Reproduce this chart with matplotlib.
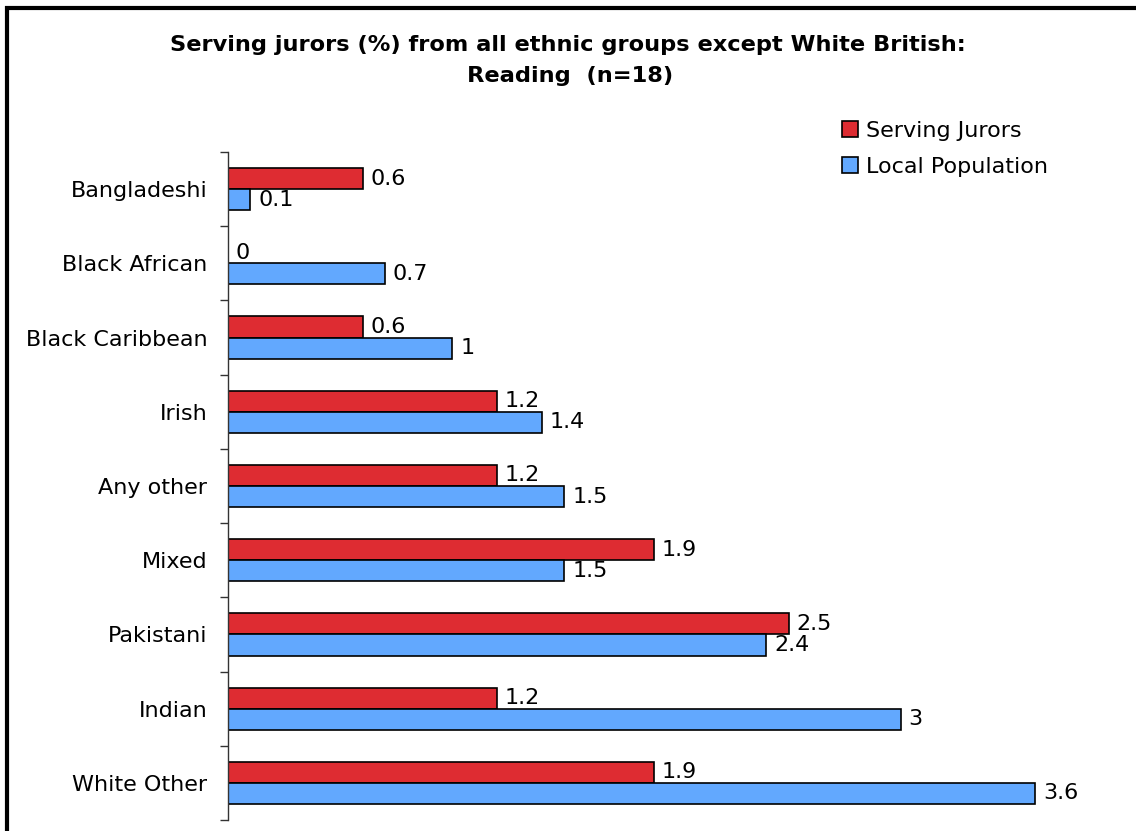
import matplotlib
matplotlib.use("Agg")
import matplotlib.pyplot as plt
from matplotlib.lines import Line2D
import numpy as np

categories = ["Bangladeshi", "Black African", "Black Caribbean", "Irish", "Any other",
              "Mixed", "Pakistani", "Indian", "White Other"]
serving_jurors = [0.6, 0, 0.6, 1.2, 1.2, 1.9, 2.5, 1.2, 1.9]
local_population = [0.1, 0.7, 1, 1.4, 1.5, 1.5, 2.4, 3, 3.6]
series_names = ["Serving Jurors", "Local Population"]
red = "#DE2C32"
blue = "#62A8FE"

def fmt(v):
    return f"{v:g}"

FS = 16
fig = plt.figure(figsize=(11.36, 8.31), dpi=100)
ax = fig.add_axes([228/1136, 1-820/831, (1125-228)/1136, (820-152)/831])

n = len(categories)
y = np.arange(n)
h = 0.285
ax.barh(y - h/2, serving_jurors, height=h, color=red, edgecolor="black", linewidth=1.2,
        label=series_names[0])
ax.barh(y + h/2, local_population, height=h, color=blue, edgecolor="black", linewidth=1.2,
        label=series_names[1])

for yi, v in zip(y, serving_jurors):
    ax.text(v + 0.035, yi - h/2, fmt(v), va="center", ha="left", fontsize=FS)
for yi, v in zip(y, local_population):
    ax.text(v + 0.035, yi + h/2, fmt(v), va="center", ha="left", fontsize=FS)

ax.set_ylim(n - 0.5, -0.5)
ax.set_xlim(0, 4)
ax.set_yticks(y)
ax.set_yticklabels(categories, fontsize=FS)
ax.set_yticks(np.arange(n + 1) - 0.5, minor=True)
ax.tick_params(axis="y", which="major", length=0, pad=15)
ax.tick_params(axis="y", which="minor", length=6, width=1, color="#333333", direction="out")
ax.set_xticks([])
for s in ["top", "right", "bottom"]:
    ax.spines[s].set_visible(False)
ax.spines["left"].set_color("#333333")
ax.spines["left"].set_linewidth(1)

fig.text(568/1136, 1-45/831, "Serving jurors (%) from all ethnic groups except White British:",
         ha="center", va="center", fontsize=16.2, fontweight="bold")
fig.text(570/1136, 1-76/831, "Reading  (n=18)", ha="center", va="center",
         fontsize=16.2, fontweight="bold")

handles = [Line2D([], [], marker="s", linestyle="none", markersize=11.5, markerfacecolor=red,
                  markeredgecolor="black", markeredgewidth=1.2),
           Line2D([], [], marker="s", linestyle="none", markersize=11.5, markerfacecolor=blue,
                  markeredgecolor="black", markeredgewidth=1.2)]
fig.legend(handles, series_names, loc="upper left", bbox_to_anchor=(843/1136, 1-121/831),
           frameon=False, fontsize=FS, handlelength=0.6, handletextpad=0.45,
           labelspacing=0.73, borderpad=0, borderaxespad=0)

fig.add_artist(Line2D([5/1136, 1], [1-7.5/831, 1-7.5/831], color="black", linewidth=3,
                      transform=fig.transFigure, solid_capstyle="butt"))
fig.add_artist(Line2D([6.5/1136, 6.5/1136], [1-6/831, 0], color="black", linewidth=3,
                      transform=fig.transFigure, solid_capstyle="butt"))

fig.savefig("out.png", dpi=100)
